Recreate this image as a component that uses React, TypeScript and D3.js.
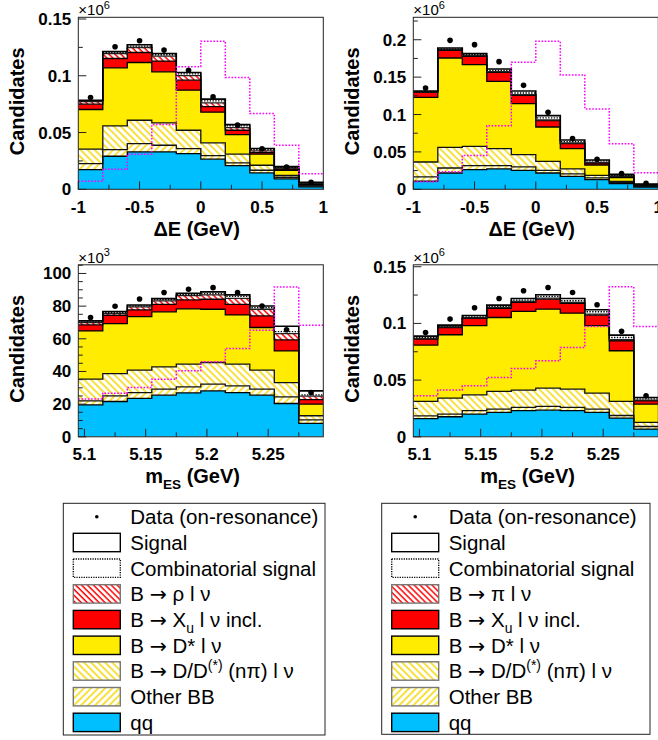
import React from 'react';
import * as d3 from 'd3';

// ---------------- DATA ----------------
const deEdges = [-1, -0.8, -0.6, -0.4, -0.2, 0, 0.2, 0.4, 0.6, 0.8, 1];
const mesEdges = [5.095, 5.115, 5.135, 5.155, 5.175, 5.195, 5.215, 5.235, 5.255, 5.275, 5.295];

const deTicks = [-1, -0.5, 0, 0.5, 1];
const deMinor = [-0.75, -0.25, 0.25, 0.75];
const mesTicks = [5.1, 5.15, 5.2, 5.25];
const mesMinor = [5.125, 5.175, 5.225, 5.275];

const yTicksSmall = [0, 0.05, 0.1, 0.15];
const yMinorSmall = [0.025, 0.075, 0.125];
const yTicksBig = [0, 0.05, 0.1, 0.15, 0.2];
const yMinorBig = [0.025, 0.075, 0.125, 0.175, 0.225];
const yTicksK = [0, 20, 40, 60, 80, 100];
const yMinorK = [5, 10, 15, 25, 30, 35, 45, 50, 55, 65, 70, 75, 85, 90, 95, 105];

// Panel 1: Delta E, B -> rho l nu (x10^6)
const p1Qq = [0.0173, 0.0291, 0.0329, 0.0329, 0.0315, 0.0265, 0.0209, 0.0144, 0.0091, 0.0021];
const p1OtherBB = [0.0053, 0.0059, 0.0074, 0.0059, 0.0044, 0.0032, 0.0023, 0.0024, 0.0015, 0.0008];
const p1DDnpi = [0.0127, 0.0208, 0.0205, 0.0197, 0.0161, 0.0112, 0.0077, 0.0044, 0.0017, 0.0006];
const p1DStar = [0.035, 0.0512, 0.0509, 0.045, 0.0353, 0.027, 0.0173, 0.0097, 0.0045, 0.0009];
const p1Xu = [0.0047, 0.0082, 0.0088, 0.0094, 0.0088, 0.005, 0.0038, 0.0014, 0.0011, 0.0006];
const p1Excl = [0.0023, 0.0044, 0.0044, 0.0044, 0.0041, 0.0032, 0.0024, 0.0015, 0.0009, 0.0003];
const p1Comb = [0.0006, 0.0009, 0.0012, 0.0012, 0.0015, 0.0018, 0.0015, 0.0012, 0.0006, 0.0003];
const p1Signal = [0.0006, 0.0009, 0.0012, 0.0011, 0.0012, 0.0015, 0.0011, 0.0009, 0.0006, 0.0006];
const p1Data = [0.0808, 0.1255, 0.1308, 0.1226, 0.1049, 0.0814, 0.0567, 0.0356, 0.0197, 0.0062];
const p1Shape = [0.0071, 0.0176, 0.0309, 0.057, 0.1079, 0.1305, 0.0985, 0.0667, 0.0388, 0.0138];

// Panel 2: Delta E, B -> pi l nu (x10^6)
const p2Qq = [0.011, 0.0218, 0.0263, 0.0272, 0.0254, 0.0218, 0.0174, 0.0129, 0.0076, 0.0031];
const p2OtherBB = [0.0055, 0.0067, 0.0053, 0.0044, 0.0045, 0.0036, 0.0031, 0.0023, 0.0018, 0.0009];
const p2DDnpi = [0.02, 0.0276, 0.0259, 0.0228, 0.0164, 0.012, 0.0067, 0.0035, 0.0013, 0.0005];
const p2DStar = [0.0865, 0.1195, 0.1092, 0.09, 0.0682, 0.0459, 0.0272, 0.0138, 0.0049, 0.0004];
const p2Xu = [0.0067, 0.0102, 0.0111, 0.012, 0.0112, 0.0085, 0.0066, 0.0027, 0.0018, 0.0009];
const p2Excl = [0.0004, 0.0009, 0.0009, 0.0009, 0.0009, 0.0009, 0.0009, 0.0009, 0.0004, 0.0004];
const p2Comb = [0.0005, 0.0009, 0.0013, 0.0018, 0.0022, 0.0027, 0.0018, 0.0018, 0.0009, 0.0005];
const p2Signal = [0.0009, 0.0013, 0.0014, 0.0018, 0.0027, 0.0031, 0.0023, 0.0013, 0.0014, 0.0004];
const p2Data = [0.1355, 0.1992, 0.1934, 0.1707, 0.139, 0.1029, 0.0677, 0.0401, 0.0209, 0.008];
const p2Shape = [0.01, 0.0235, 0.0452, 0.085, 0.17, 0.198, 0.153, 0.1075, 0.061, 0.0222];

// Panel 3: mES, B -> rho l nu (x10^3)
const p3Qq = [19.6, 21.6, 23.5, 25.5, 26.9, 28.1, 27.1, 25.5, 20.4, 8.2];
const p3OtherBB = [2.4, 3.5, 3.6, 3.7, 3.7, 4.1, 4.1, 3.7, 4.1, 2.2];
const p3DDnpi = [13.3, 13.6, 13.7, 13.6, 13.9, 13.3, 13.3, 11.6, 8.7, 2.5];
const p3DStar = [29.5, 30.6, 32.8, 33.7, 33.8, 32.6, 30.1, 26.1, 19.4, 7.1];
const p3Xu = [3.7, 5.1, 4.1, 4.6, 5.5, 6.1, 6.5, 7.1, 6.7, 2.8];
const p3Excl = [1.4, 1.2, 1.8, 2.1, 2.7, 2.7, 3.7, 4.1, 3.9, 2.1];
const p3Comb = [0.4, 0.5, 0.6, 0.8, 0.6, 0.8, 1.2, 1.0, 1.2, 0.8];
const p3Signal = [0.7, 0.6, 0.6, 0.6, 0.8, 1.0, 0.9, 1.0, 3.3, 2.4];
const p3Data = [73.0, 79.9, 84.4, 88.3, 90.3, 91.3, 88.3, 80.1, 65.5, 27.1];
const p3Shape = [23.1, 26.7, 30.2, 35.3, 40.4, 45.9, 54.1, 65.3, 91.7, 68.3];

// Panel 4: mES, B -> pi l nu (x10^6)
const p4Qq = [0.016, 0.0177, 0.02, 0.0215, 0.023, 0.0235, 0.023, 0.0215, 0.0165, 0.0068];
const p4OtherBB = [0.0025, 0.0023, 0.003, 0.0029, 0.0029, 0.0033, 0.0029, 0.0029, 0.0023, 0.0023];
const p4DDnpi = [0.0127, 0.0141, 0.014, 0.0156, 0.0153, 0.0162, 0.0162, 0.0142, 0.0124, 0.0036];
const p4DStar = [0.0497, 0.0559, 0.061, 0.0652, 0.0694, 0.0696, 0.0669, 0.0594, 0.0447, 0.0161];
const p4Xu = [0.0053, 0.0064, 0.0064, 0.008, 0.0079, 0.0088, 0.0086, 0.0093, 0.0088, 0.003];
const p4Excl = [0.0006, 0.0006, 0.0006, 0.0009, 0.0009, 0.0009, 0.0009, 0.0009, 0.0009, 0.0006];
const p4Comb = [0.0008, 0.0006, 0.0008, 0.0009, 0.0011, 0.0015, 0.0015, 0.0021, 0.002, 0.0011];
const p4Signal = [0.0012, 0.0009, 0.0012, 0.0011, 0.0015, 0.0015, 0.002, 0.0017, 0.0021, 0.0012];
const p4Data = [0.092, 0.1038, 0.1138, 0.122, 0.1288, 0.1317, 0.1273, 0.1164, 0.093, 0.0362];
const p4Shape = [0.0362, 0.0412, 0.045, 0.0524, 0.0603, 0.067, 0.0788, 0.0973, 0.1323, 0.0973];

const legendLeft = ['Data (on-resonance)', 'Signal', 'Combinatorial signal', 'B → ρ l ν', 'B → X_{u} l ν incl.', 'B → D* l ν', 'B → D/D^{(*)} (nπ) l ν', 'Other BB', 'qq'];
const legendRight = ['Data (on-resonance)', 'Signal', 'Combinatorial signal', 'B → π l ν', 'B → X_{u} l ν incl.', 'B → D* l ν', 'B → D/D^{(*)} (nπ) l ν', 'Other BB', 'qq'];

// ---------------- STYLE ----------------
const FONT = '"Liberation Sans", Arial, Helvetica, sans-serif';
const ARROW_FONT = '"DejaVu Sans", sans-serif';
const BLUE = '#00BFFF';
const YELLOW = '#FFEC00';
const HATCH_YELLOW = '#F5D800';
const RED = '#FF0000';

type LayerStyle = { fill: string; stroke: string; dash?: string; legendStroke: string; legendDash?: string };
const layerStyles: LayerStyle[] = [
  { fill: BLUE, stroke: '#000', legendStroke: '#000' },
  { fill: 'url(#hatchOther)', stroke: '#111', legendStroke: '#777' },
  { fill: 'url(#hatchDD)', stroke: '#111', legendStroke: '#777' },
  { fill: YELLOW, stroke: '#000', legendStroke: '#000' },
  { fill: RED, stroke: '#000', legendStroke: '#000' },
  { fill: 'url(#hatchRed)', stroke: '#222', legendStroke: '#777' },
  { fill: '#fff', stroke: '#000', dash: '1.4 1.4', legendStroke: '#000', legendDash: '1.2 1.2' },
  { fill: '#fff', stroke: '#000', legendStroke: '#000' },
];

type PanelCfg = {
  edges: number[];
  layers: number[][];
  data: number[];
  shape: number[];
  yMax: number;
  yTicks: number[];
  yMinor: number[];
  xTicks: number[];
  xMinor: number[];
  exp: string;
  xTitle: string;
};

const panels: PanelCfg[] = [
  { edges: deEdges, layers: [p1Qq, p1OtherBB, p1DDnpi, p1DStar, p1Xu, p1Excl, p1Comb, p1Signal], data: p1Data, shape: p1Shape, yMax: 0.1515, yTicks: yTicksSmall, yMinor: yMinorSmall, xTicks: deTicks, xMinor: deMinor, exp: '6', xTitle: 'ΔE (GeV)' },
  { edges: deEdges, layers: [p2Qq, p2OtherBB, p2DDnpi, p2DStar, p2Xu, p2Excl, p2Comb, p2Signal], data: p2Data, shape: p2Shape, yMax: 0.23, yTicks: yTicksBig, yMinor: yMinorBig, xTicks: deTicks, xMinor: deMinor, exp: '6', xTitle: 'ΔE (GeV)' },
  { edges: mesEdges, layers: [p3Qq, p3OtherBB, p3DDnpi, p3DStar, p3Xu, p3Excl, p3Comb, p3Signal], data: p3Data, shape: p3Shape, yMax: 105.3, yTicks: yTicksK, yMinor: yMinorK, xTicks: mesTicks, xMinor: mesMinor, exp: '3', xTitle: 'm_{ES} (GeV)' },
  { edges: mesEdges, layers: [p4Qq, p4OtherBB, p4DDnpi, p4DStar, p4Xu, p4Excl, p4Comb, p4Signal], data: p4Data, shape: p4Shape, yMax: 0.1517, yTicks: yTicksSmall, yMinor: yMinorSmall, xTicks: mesTicks, xMinor: mesMinor, exp: '6', xTitle: 'm_{ES} (GeV)' },
];

const panelLeft = [78.3, 413.3, 78.3, 413.3];
const panelTop = [17.3, 17.3, 264.8, 264.8];
const PW = 245;
const PH = 172;

function plainRuns(s: string, key: () => number, dy: number) {
  // split out arrows to render them with a wider glyph
  const parts = s.split('→');
  const out: React.ReactElement[] = [];
  let first = true;
  parts.forEach((p, i) => {
    if (p.length) {
      out.push(<tspan key={key()} dy={first ? dy : 0}>{p}</tspan>);
      first = false;
    }
    if (i < parts.length - 1) {
      out.push(<tspan key={key()} dy={first ? dy : 0} fontFamily={ARROW_FONT}>→</tspan>);
      first = false;
    }
  });
  return out;
}

function rich(text: string, size: number) {
  const out: React.ReactElement[] = [];
  const re = /([_^])\{([^}]*)\}/g;
  let last = 0;
  let offset = 0;
  let k = 0;
  const key = () => k++;
  let m: RegExpExecArray | null;
  while ((m = re.exec(text))) {
    if (m.index > last) {
      out.push(...plainRuns(text.slice(last, m.index), key, -offset));
      offset = 0;
    }
    const d = m[1] === '_' ? size * 0.3 : -size * 0.4;
    out.push(<tspan key={key()} dy={d - offset} fontSize={size * 0.68}>{m[2]}</tspan>);
    offset = d;
    last = re.lastIndex;
  }
  if (last < text.length) out.push(...plainRuns(text.slice(last), key, -offset));
  return out;
}

function fmt(v: number) {
  return String(+v.toFixed(4));
}

function Panel({ cfg, left, top, idx }: { cfg: PanelCfg; left: number; top: number; idx: number }) {
  const xs = d3.scaleLinear().domain([cfg.edges[0], cfg.edges[cfg.edges.length - 1]]).range([left, left + PW]);
  const ys = d3.scaleLinear().domain([0, cfg.yMax]).range([top + PH, top]);
  const nb = cfg.edges.length - 1;
  const cum: number[][] = [];
  cfg.layers.forEach((arr, i) => {
    cum.push(arr.map((v, b) => v + (i > 0 ? cum[i - 1][b] : 0)));
  });
  const pts = (lo: number[] | null, hi: number[]) =>
    cfg.edges.map((e, j) => {
      const b = Math.min(j, nb - 1);
      return [e, lo ? lo[b] : 0, hi[b]] as [number, number, number];
    });
  const area = d3.area<[number, number, number]>()
    .x((d) => xs(d[0]))
    .y0((d) => ys(d[1]))
    .y1((d) => ys(d[2]))
    .curve(d3.curveStepAfter);
  const line = d3.line<[number, number, number]>()
    .x((d) => xs(d[0]))
    .y((d) => ys(d[2]))
    .curve(d3.curveStepAfter);
  const clipId = `clip${idx}`;
  const centers = cfg.edges.slice(0, nb).map((e, b) => (e + cfg.edges[b + 1]) / 2);
  const bottom = top + PH;
  return (
    <g>
      <clipPath id={clipId}>
        <rect x={left} y={top} width={PW} height={PH} />
      </clipPath>
      <rect x={left} y={top} width={PW} height={PH} fill="#fff" />
      <g clipPath={`url(#${clipId})`}>
        {cum.map((hi, i) => (
          <path key={`f${i}`} d={area(pts(i > 0 ? cum[i - 1] : null, hi)) || ''} fill={layerStyles[i].fill} stroke="none" />
        ))}
        {cum.map((hi, i) => (
          <path key={`l${i}`} d={line(pts(null, hi)) || ''} fill="none" stroke={layerStyles[i].stroke}
            strokeWidth={i === 7 ? 1.6 : 1.3} strokeDasharray={layerStyles[i].dash} />
        ))}
        <path d={line(pts(null, cfg.shape)) || ''} fill="none" stroke="#FF00FF" strokeWidth={1.5} strokeDasharray="1.6 1.6" />
        {cfg.data.map((v, b) => (
          <circle key={`d${b}`} cx={xs(centers[b])} cy={ys(v)} r={2.8} fill="#000" />
        ))}
      </g>
      <rect x={left} y={top} width={PW} height={PH} fill="none" stroke="#222" strokeWidth={1} />
      {cfg.yTicks.map((t) => (
        <g key={`yt${t}`}>
          <line x1={left} x2={left + 8} y1={ys(t)} y2={ys(t)} stroke="#222" strokeWidth={1} />
          <text x={left - 7} y={ys(t) + 6} textAnchor="end" fontFamily={FONT} fontWeight="bold" fontSize={17}>{fmt(t)}</text>
        </g>
      ))}
      {cfg.yMinor.filter((t) => t <= cfg.yMax).map((t) => (
        <line key={`ym${t}`} x1={left} x2={left + 4.5} y1={ys(t)} y2={ys(t)} stroke="#222" strokeWidth={1} />
      ))}
      {cfg.xTicks.map((t) => (
        <g key={`xt${t}`}>
          <line x1={xs(t)} x2={xs(t)} y1={bottom} y2={bottom - 8} stroke="#222" strokeWidth={1} />
          <text x={xs(t)} y={bottom + 23.5} textAnchor="middle" fontFamily={FONT} fontWeight="bold" fontSize={17}>{fmt(t)}</text>
        </g>
      ))}
      {cfg.xMinor.map((t) => (
        <line key={`xm${t}`} x1={xs(t)} x2={xs(t)} y1={bottom} y2={bottom - 4.5} stroke="#222" strokeWidth={1} />
      ))}
      <text x={left} y={top - 2} fontFamily={FONT} fontSize={15}>
        ×10<tspan dy={-6.5} fontSize={11}>{cfg.exp}</tspan>
      </text>
      <text transform={`translate(${left - 54},${top + PH / 2 - 2}) rotate(-90)`} textAnchor="middle" fontFamily={FONT} fontWeight="bold" fontSize={20}>Candidates</text>
      <text x={left + PW - 83.3} y={bottom + 46.5} textAnchor="end" fontFamily={FONT} fontWeight="bold" fontSize={20}>{rich(cfg.xTitle, 20)}</text>
    </g>
  );
}

function Legend({ x, y, w, h, labels }: { x: number; y: number; w: number; h: number; labels: string[] }) {
  const rowH = 25.7;
  const first = y + 13.5;
  const swX = x + 10;
  const swW = 47;
  const swH = 18.4;
  const order = [7, 6, 5, 4, 3, 2, 1, 0];
  return (
    <g>
      <rect x={x} y={y} width={w} height={h} fill="#fff" stroke="#222" strokeWidth={1} />
      {labels.map((lab, i) => {
        const cy = first + i * rowH;
        return (
          <g key={i}>
            {i === 0 ? (
              <circle cx={swX + swW / 2} cy={cy} r={1.8} fill="#000" />
            ) : (
              <rect x={swX} y={cy - swH / 2} width={swW} height={swH}
                fill={layerStyles[order[i - 1]].fill}
                stroke={layerStyles[order[i - 1]].legendStroke}
                strokeDasharray={layerStyles[order[i - 1]].legendDash}
                strokeWidth={1.4} />
            )}
            <text x={swX + swW + 10} y={cy + 7.3} fontFamily={FONT} fontSize={20.5}>{rich(lab, 20.5)}</text>
          </g>
        );
      })}
    </g>
  );
}

export default function App() {
  return (
    <svg width={658} height={740} style={{ position: 'absolute', left: 0, top: 0, background: '#fff' }}>
      <defs>
        <pattern id="hatchRed" patternUnits="userSpaceOnUse" width={4.2} height={4.2} patternTransform="rotate(-45)">
          <rect width={4.2} height={4.2} fill="#fff" />
          <line x1={1} y1={0} x2={1} y2={4.2} stroke={RED} strokeWidth={1.5} />
        </pattern>
        <pattern id="hatchDD" patternUnits="userSpaceOnUse" width={5} height={5} patternTransform="rotate(-45)">
          <rect width={5} height={5} fill="#fff" />
          <line x1={1} y1={0} x2={1} y2={5} stroke={HATCH_YELLOW} strokeWidth={1.5} />
        </pattern>
        <pattern id="hatchOther" patternUnits="userSpaceOnUse" width={5} height={5} patternTransform="rotate(45)">
          <rect width={5} height={5} fill="#fff" />
          <line x1={1} y1={0} x2={1} y2={5} stroke={HATCH_YELLOW} strokeWidth={1.5} />
        </pattern>
      </defs>
      <rect width={658} height={740} fill="#fff" />
      {panels.map((cfg, i) => (
        <Panel key={i} cfg={cfg} left={panelLeft[i]} top={panelTop[i]} idx={i} />
      ))}
      <Legend x={63.3} y={503.3} w={261.7} h={231.7} labels={legendLeft} />
      <Legend x={381.7} y={503.3} w={268.3} h={231} labels={legendRight} />
    </svg>
  );
}
